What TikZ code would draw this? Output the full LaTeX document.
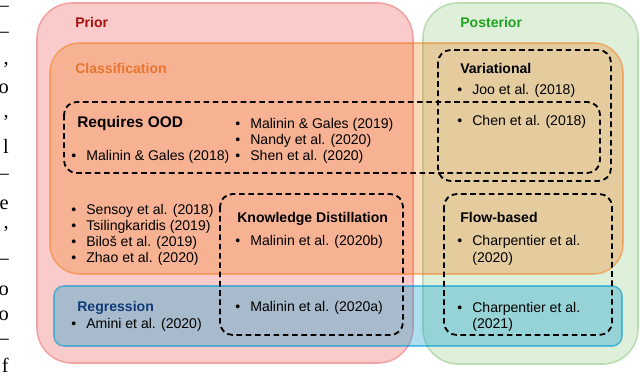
\documentclass[tikz,border=0pt]{standalone}
\usepackage{fontspec}
\setmainfont{Liberation Sans}
\newfontfamily\serifcut{Liberation Serif}
\usetikzlibrary{positioning}
\definecolor{PriorFill}{HTML}{F9CBCB}
\definecolor{PriorLine}{HTML}{F2A2A2}
\definecolor{PriorText}{HTML}{A80E0E}
\definecolor{PostFill}{HTML}{DEEFDA}
\definecolor{PostLine}{HTML}{BADCB1}
\definecolor{PostText}{HTML}{1FA31F}
\definecolor{ClassHue}{HTML}{F47409}
\definecolor{ClassText}{HTML}{E6762F}
\definecolor{RegHue}{HTML}{069DD1}
\definecolor{RegText}{HTML}{0F3A78}
\tikzset{region/.style={line width=1.1pt,rounded corners=25pt},band/.style={region,fill opacity=.28,draw opacity=.45},group/.style={draw=black,line width=1.3pt,dash pattern=on 4pt off 2.6pt,rounded corners=9pt},head/.style={anchor=base west,inner sep=0pt,font=\fontsize{10}{12}\selectfont\bfseries},refs/.style={anchor=base west,inner sep=0pt,font=\fontsize{10}{12}\selectfont},cut/.style={anchor=base east,inner sep=0pt,font=\serifcut\fontsize{14.5}{17}\selectfont}}
\newcommand\bul{\textbullet\hspace{.72em}}
\newcommand\nobul{\phantom{\textbullet}\hspace{.72em}}
\begin{document}
\begin{tikzpicture}[x=0.025cm,y=-0.025cm]
  \useasboundingbox (0,0) rectangle (640,380);
  % outer sets
  \draw[region,fill=PriorFill,draw=PriorLine] (37,3) rectangle (413,363);
  \draw[region,fill=PostFill,draw=PostLine] (423,3) rectangle (638,364);
  % task bands
  \draw[band,fill=ClassHue,draw=ClassHue,rounded corners=21pt] (50,43) rectangle (623,274);
  \draw[band,fill=RegHue,draw=RegHue,fill opacity=.33,draw opacity=.6,rounded corners=7pt] (54,286) rectangle (622,346);
  % dashed groups
  \draw[group] (64,102) rectangle (600,173);
  \draw[group] (438,50) rectangle (611,181);
  \draw[group] (220,194) rectangle (403,335);
  \draw[group] (444,194) rectangle (612,335);
  % headings
  \node[head,PriorText] (prior) at (75,28) {Prior};
  \node[head,PostText] (post) at (460,28) {Posterior};
  \node[head,ClassText] (cls) at (75,74) {Classification};
  \node[head,RegText] (reg) at (77,312) {Regression};
  \node[head,font=\fontsize{11}{13}\selectfont\bfseries] (ood) at (77,128) {Requires OOD};
  \node[head] (var) at (460,74) {Variational};
  \node[head] (kd) at (237,223) {Knowledge Distillation};
  \node[head] (flow) at (460,223) {Flow-based};
  % references
  \node[refs] (ood1) at (71,161) {\bul Malinin \& Gales (2018)};
  \foreach \t [count=\k] in {Malinin \& Gales (2019),Nandy et al. (2020),Shen et al. (2020)}
    \node[refs] (ood\k b) at (235,113+16*\k) {\bul\t};
  \node[refs] (var1) at (457,95) {\bul Joo et al. (2018)};
  \node[refs] (var2) at (457,126) {\bul Chen et al. (2018)};
  \foreach \t [count=\k] in {Sensoy et al. (2018),Tsilingkaridis (2019),Bilo\v{s} et al. (2019),Zhao et al. (2020)}
    \node[refs] (cls\k) at (71,199+16*\k) {\bul\t};
  \node[refs] (kd1) at (235,246) {\bul Malinin et al. (2020b)};
  \node[refs] (kd2) at (235,312) {\bul Malinin et al. (2020a)};
  \node[refs] (flow1) at (457,246) {\bul Charpentier et al.};
  \node[refs] (flow1y) at (457,263) {\nobul(2020)};
  \node[refs] (flow2) at (457,313) {\bul Charpentier et al.};
  \node[refs] (flow2y) at (457,329) {\nobul(2021)};
  \node[refs] (reg1) at (71,329) {\bul Amini et al. (2020)};
  % cut-off text of the page column
  \foreach \c/\b [count=\k] in {\textendash/12,\textendash/38,{,}/65,o/94,{,}/118,l/154,\textendash/180,e/210,{,}/229,\textendash/265,o/296,o/321,\textendash/345,f/373}
    \node[cut] (cut\k) at (9,\b) {\c};
\end{tikzpicture}
\end{document}
